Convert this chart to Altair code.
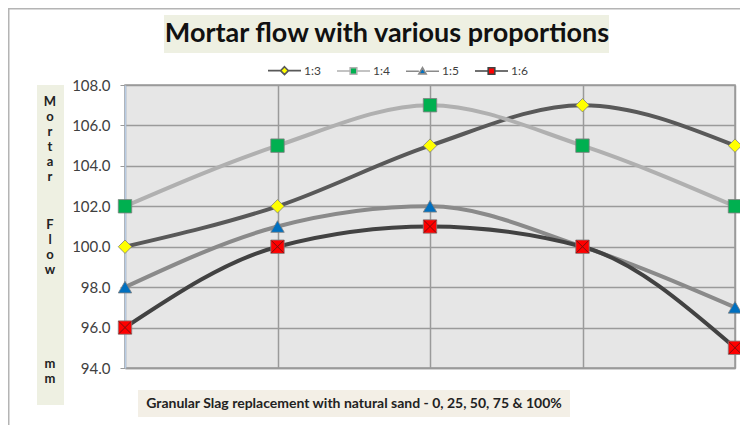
import altair as alt
import pandas as pd

x_vals = [0, 25, 50, 75, 100]
series = ["1:3", "1:4", "1:5", "1:6"]
v13 = [100, 102, 105, 107, 105]
v14 = [102, 105, 107, 105, 102]
v15 = [98, 101, 102, 100, 97]
v16 = [96, 100, 101, 100, 95]
y_ticks = [94, 96, 98, 100, 102, 104, 106, 108]

title_text = "Mortar flow with various proportions"
y_title_parts = ["M\no\nr\nt\na\nr", "F\nl\no\nw", "m\nm"]
x_title = "Granular Slag replacement with natural sand - 0, 25, 50, 75 & 100%"

line_colors = ["#595959", "#b0b0b0", "#8a8a8a", "#424242"]
fill_colors = ["#ffff00", "#00b050", "#0070c0", "#ff0000"]
shapes = ["diamond", "square", "triangle-up", "square"]
legend_paths = [
    "M-1,0L-0.24,0M0.24,0L1,0M0,-0.24L0.24,0L0,0.24L-0.24,0Z",
    "M-1,0L-0.2,0M0.2,0L1,0M-0.2,-0.2L0.2,-0.2L0.2,0.2L-0.2,0.2Z",
    "M-1,0L-0.22,0M0.22,0L1,0M0,-0.22L0.22,0.16L-0.22,0.16Z",
    "M-1,0L-0.2,0M0.2,0L1,0M-0.2,-0.2L0.2,-0.2L0.2,0.2L-0.2,0.2Z",
]

rows = []
for name, vals in zip(series, [v13, v14, v15, v16]):
    for xv, yv in zip(x_vals, vals):
        rows.append({"x": xv, "y": yv, "s": name})
df = pd.DataFrame(rows)

FONT = "Lato"

xenc = alt.X("x:Q", scale=alt.Scale(domain=[0, 100], nice=False),
             axis=alt.Axis(values=x_vals, labels=False, ticks=False, title=None,
                           grid=True, gridColor="#9a9a9a", gridWidth=1.5,
                           domainColor="#9a9a9a", domainWidth=1.5))
yenc = alt.Y("y:Q", scale=alt.Scale(domain=[94, 108], nice=False, zero=False),
             axis=alt.Axis(values=y_ticks, format=".1f", title=None,
                           labelFont=FONT, labelFontSize=15, labelColor="#404040",
                           labelPadding=10, tickColor="#9a9a9a", tickSize=5,
                           domainColor="#b8cce4", domainWidth=1.5,
                           grid=True, gridColor="#9a9a9a", gridWidth=1.5))

legend = alt.Legend(title=None, orient="none", legendX=142, legendY=-32,
                    direction="horizontal", labelFont=FONT, labelFontSize=12,
                    labelColor="#404040", symbolSize=1089, columnPadding=12,
                    labelOffset=2, symbolStrokeWidth=1.6, symbolOpacity=1,
                    symbolFillColor="#ffffff")

base = alt.Chart(df)

lines = base.mark_line(interpolate="monotone", strokeWidth=4).encode(
    x=xenc, y=yenc,
    stroke=alt.Stroke("s:N", scale=alt.Scale(domain=series, range=line_colors), legend=None),
    detail="s:N",
)

legend_layer = base.mark_point(filled=True, opacity=0, size=1).encode(
    x=xenc, y=yenc,
    fill=alt.Fill("s:N", scale=alt.Scale(domain=series, range=fill_colors), legend=legend),
    stroke=alt.Stroke("s:N", scale=alt.Scale(domain=series, range=line_colors), legend=legend),
    shape=alt.Shape("s:N", scale=alt.Scale(domain=series, range=legend_paths), legend=legend),
)

points = base.mark_point(filled=True, size=180, opacity=1, stroke="#7f7f7f", strokeWidth=0.8).encode(
    x=xenc, y=yenc,
    fill=alt.Fill("s:N", scale=alt.Scale(domain=series, range=fill_colors), legend=None),
    shape=alt.Shape("s:N", scale=alt.Scale(domain=series, range=shapes), legend=None),
)

crosses = alt.Chart(df[df["s"] == "1:6"]).mark_point(
    shape="M-1,-1L1,1M-1,1L1,-1", size=150, stroke="#7a1010", strokeWidth=1, filled=False,
    opacity=1
).encode(x=xenc, y=yenc)

tdf = pd.DataFrame({"t": [title_text]})
frame = alt.Chart(tdf).mark_rect(fillOpacity=0, stroke="#b4b4b4", strokeWidth=1.5).encode(
    x=alt.value(-116.25), x2=alt.value(700), y=alt.value(-76.25), y2=alt.value(420))
title_bg = alt.Chart(tdf).mark_rect(color="#eef0e2").encode(
    x=alt.value(39), x2=alt.value(484), y=alt.value(-70), y2=alt.value(-32))
title_mark = alt.Chart(tdf).mark_text(font=FONT, fontSize=27, fontWeight="bold",
                                      color="#111111", align="center", baseline="middle").encode(
    x=alt.value(262), y=alt.value(-51), text="t:N")

ytitle_bg = alt.Chart(tdf).mark_rect(color="#eef0e2").encode(
    x=alt.value(-88), x2=alt.value(-61), y=alt.value(0), y2=alt.value(320))
ytitle_marks = []
for part, yp in zip(y_title_parts, [11, 134, 273]):
    ytitle_marks.append(
        alt.Chart(pd.DataFrame({"t": [part]})).mark_text(
            font=FONT, fontSize=13, fontWeight="bold", color="#222222",
            align="center", baseline="top", lineBreak="\n", lineHeight=15
        ).encode(x=alt.value(-75), y=alt.value(yp), text="t:N")
    )

xdf = pd.DataFrame({"t": [x_title]})
xtitle_bg = alt.Chart(xdf).mark_rect(color="#f3efe6").encode(
    x=alt.value(13), x2=alt.value(445), y=alt.value(305), y2=alt.value(332))
xtitle_mark = alt.Chart(xdf).mark_text(font=FONT, fontSize=14, fontWeight="bold",
                                       color="#222222", align="center", baseline="middle").encode(
    x=alt.value(229), y=alt.value(319), text="t:N")

chart = alt.layer(
    frame, title_bg, title_mark, ytitle_bg, *ytitle_marks, xtitle_bg, xtitle_mark,
    lines, legend_layer, points, crosses
).resolve_scale(
    stroke="independent", fill="independent", shape="independent"
).properties(
    width=610, height=283,
    autosize=alt.AutoSizeParams(type="none"),
    padding={"left": 117, "top": 77, "right": 5, "bottom": 57},
    background="white",
).configure_view(fill="#e6e6e6", stroke="#9a9a9a", strokeWidth=1.5)

chart.save("out.html", embed_options={"renderer": "svg", "actions": False})
